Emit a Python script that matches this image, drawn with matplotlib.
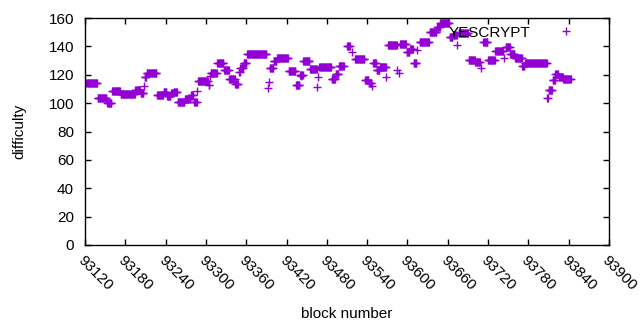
import matplotlib
matplotlib.use('Agg')
import matplotlib.pyplot as plt
import numpy as np

plt.rcParams['font.family'] = ['Liberation Sans', 'DejaVu Sans']

# runs of blocks with the same difficulty: first block, last block, difficulty
run_start = [93122, 93139, 93153, 93160, 93173, 93195, 93203, 93209, 93212, 93227,
             93237, 93242, 93248, 93252, 93258, 93269, 93278, 93282, 93288, 93304,
             93307, 93317, 93327, 93335, 93344, 93349, 93351, 93356, 93361, 93395,
             93401, 93406, 93423, 93434, 93440, 93445, 93455, 93469, 93487, 93493,
             93498, 93510, 93522, 93537, 93543, 93549, 93554, 93559, 93571, 93589,
             93599, 93604, 93609, 93618, 93633, 93644, 93649, 93663, 93668, 93676,
             93691, 93701, 93713, 93720, 93731, 93746, 93753, 93760, 93771, 93775,
             93808, 93810, 93816, 93820, 93825, 93832]
run_end = [93138, 93152, 93159, 93172, 93194, 93202, 93207, 93211, 93226, 93236,
           93241, 93247, 93251, 93257, 93268, 93277, 93281, 93286, 93303, 93305,
           93316, 93326, 93334, 93343, 93348, 93350, 93355, 93360, 93390, 93400,
           93405, 93422, 93433, 93439, 93444, 93454, 93465, 93486, 93492, 93497,
           93505, 93514, 93536, 93542, 93546, 93553, 93558, 93568, 93584, 93598,
           93603, 93608, 93613, 93632, 93643, 93648, 93662, 93667, 93673, 93690,
           93700, 93708, 93719, 93730, 93742, 93752, 93759, 93770, 93774, 93807,
           93809, 93815, 93819, 93824, 93831, 93843]
run_value = [114, 103.5, 100, 108.3, 106.2, 109, 107, 118.6, 121, 105.5,
             107.8, 105, 107, 108, 101, 103, 105.7, 101, 115.6, 113,
             121.4, 128, 123.5, 117, 113.5, 122, 125, 128, 134.4, 125,
             129.7, 131.6, 122.4, 112.8, 119.8, 130, 123.8, 125.2, 117, 120.5,
             126.5, 140, 131, 116, 114, 128, 123, 125.5, 140.8, 141.7,
             136, 138, 128.6, 143.3, 150.4, 153.9, 156.5, 146.8, 148, 149.6,
             130.6, 128.8, 143.3, 130.6, 137, 139.5, 134.6, 131.6, 126.4, 128,
             103.4, 109, 116, 120.5, 118.6, 116.8]

# single blocks away from the runs
single_block = [93208, 93287, 93306, 93392, 93394, 93441, 93466, 93467, 93517, 93547,
                93568, 93585, 93587, 93614, 93674, 93709, 93743]
single_value = [112, 108.5, 119, 111, 115, 119, 111.6, 118.6, 135.8, 112,
                118.6, 123, 121, 137.5, 141, 125, 132]

blocks = np.concatenate([np.arange(s, e + 1) for s, e in zip(run_start, run_end)] + [single_block])
diffs = np.concatenate([np.full(e - s + 1, v) for s, e, v in zip(run_start, run_end, run_value)] + [single_value])

fig = plt.figure(figsize=(6.4, 3.3), dpi=100)
ax = fig.add_axes([85 / 640, 85 / 330, 524 / 640, 227 / 330])

ax.plot(blocks, diffs, linestyle='none', marker='+', markersize=6.2,
        markeredgewidth=1.0, color='#9400d3', label='YESCRYPT')

ax.set_xlim(93120, 93900)
ax.set_ylim(0, 160)
ax.set_xticks(np.arange(93120, 93901, 60))
ax.set_yticks(np.arange(0, 161, 20))
ax.tick_params(direction='in', length=4, width=1, top=True, right=True,
               labelsize=11, colors='black')
ax.tick_params(axis='y', pad=8)
ax.tick_params(axis='x', pad=6)
for lab in ax.get_xticklabels():
    lab.set_rotation(-45)
    lab.set_ha('left')
    lab.set_va('top')
    lab.set_rotation_mode('anchor')
for sp in ax.spines.values():
    sp.set_linewidth(1)
    sp.set_color('black')

ax.set_xlabel('block number', fontsize=11, labelpad=10)
ax.set_ylabel('difficulty', fontsize=11, labelpad=16)

ax.legend(loc='upper right', bbox_to_anchor=(0.957, 0.99), borderaxespad=0,
          borderpad=0.35, frameon=False, markerfirst=False, handlelength=2,
          handletextpad=1.3, fontsize=11)

fig.savefig('out.png', dpi=100, facecolor='white')
